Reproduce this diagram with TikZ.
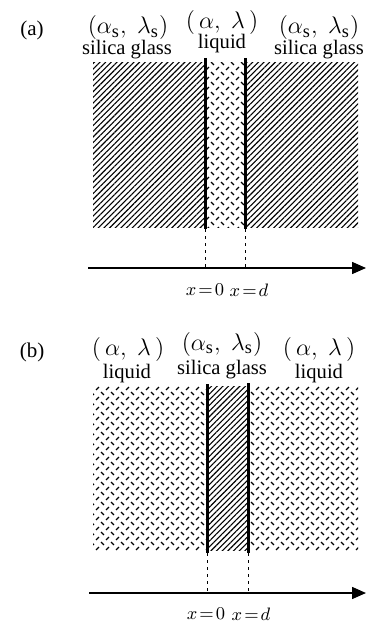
\documentclass[tikz,border=0pt]{standalone}
\usepackage{fontspec}
\setmainfont{Liberation Serif}
\usetikzlibrary{arrows.meta, patterns, patterns.meta}

% short crossed dashes for the liquid layers
\pgfdeclarepatternformonly{liquid dashes}{\pgfqpoint{-1pt}{-1pt}}{\pgfqpoint{6pt}{6pt}}{\pgfqpoint{5pt}{5pt}}{%
  \pgfsetlinewidth{0.6pt}
  \pgfpathmoveto{\pgfqpoint{0.55pt}{1.95pt}}\pgflineto{\pgfqpoint{1.95pt}{0.55pt}}
  \pgfpathmoveto{\pgfqpoint{3.05pt}{3.05pt}}\pgflineto{\pgfqpoint{4.45pt}{4.45pt}}
  \pgfusepath{stroke}}

\begin{document}
\begin{tikzpicture}[x=0.5pt, y=-0.5pt,
    every node/.style={font=\fontsize{10.3}{12}\selectfont, inner sep=0},
    pair/.style={font=\fontsize{13}{15}\selectfont},
    glass/.style={pattern={Lines[angle=45, distance=2pt, line width=0.55pt]}},
    liquid/.style={pattern=liquid dashes},
    wall/.style={line width=1.5pt},
    guide/.style={line width=0.5pt, dash pattern=on 1.5pt off 2pt},
    axis/.style={line width=0.75pt, -{Triangle[length=7pt, width=6pt]}},
    tag/.style={font=\fontsize{10.5}{12}\selectfont},
    coordlabel/.style={font=\fontsize{9.4}{11}\selectfont}]
  \useasboundingbox (0,0) rectangle (366,626);
    \begin{scope}
      \node[tag] (tagA) at (32,30) {(a)};
      \node[pair] (parAL) at (128,28) {$(\alpha_{\mathrm{s}},\;\lambda_{\mathrm{s}})$};
      \node[pair] (parAM) at (222,23) {$(\,\alpha,\;\lambda\,)$};
      \node[pair] (parAR) at (319,28) {$(\alpha_{\mathrm{s}},\;\lambda_{\mathrm{s}})$};
      \node (matAL) at (127,50) {silica glass};
      \node (matAM) at (222,44) {liquid};
      \node (matAR) at (319,50) {silica glass};
      \fill[glass] (93,63) rectangle (205,227);
      \fill[liquid] (205,63) rectangle (245,227);
      \fill[glass] (245,63) rectangle (358,227);
      \coordinate (wA1t) at (205,58);
      \coordinate (wA1b) at (205,229);
      \coordinate (wA2t) at (245,58);
      \coordinate (wA2b) at (245,229);
      \coordinate (axA0) at (88,268);
      \coordinate (axA1) at (366,268);
      \coordinate (xA1) at (205,268);
      \coordinate (xA2) at (245,268);
      \draw[wall] (wA1t) -- (wA1b);
      \draw[wall] (wA2t) -- (wA2b);
      \draw[guide] (wA1b) -- (xA1);
      \draw[guide] (wA2b) -- (xA2);
      \draw[axis] (axA0) -- (axA1);
      \node[coordlabel] (zeroA) at (205,290) {$x\!=\!0$};
      \node[coordlabel] (dA) at (249,290) {$x\!=\!d$};
    \end{scope}
    \begin{scope}[shift={(0,323)}]
      \node[tag] (tagB) at (32,29) {(b)};
      \node[pair] (parBL) at (128,26) {$(\,\alpha,\;\lambda\,)$};
      \node[pair] (parBM) at (222,21) {$(\alpha_{\mathrm{s}},\;\lambda_{\mathrm{s}})$};
      \node[pair] (parBR) at (319,26) {$(\,\alpha,\;\lambda\,)$};
      \node (matBL) at (127,51) {liquid};
      \node (matBM) at (222,47) {silica glass};
      \node (matBR) at (319,51) {liquid};
      \fill[liquid] (93,63) rectangle (207,227);
      \fill[glass] (207,63) rectangle (248,227);
      \fill[liquid] (248,63) rectangle (358,227);
      \coordinate (wB1t) at (207,61);
      \coordinate (wB1b) at (207,230);
      \coordinate (wB2t) at (248,60);
      \coordinate (wB2b) at (248,230);
      \coordinate (axB0) at (89,270);
      \coordinate (axB1) at (366,270);
      \coordinate (xB1) at (207,270);
      \coordinate (xB2) at (248,270);
      \draw[wall] (wB1t) -- (wB1b);
      \draw[wall] (wB2t) -- (wB2b);
      \draw[guide] (wB1b) -- (xB1);
      \draw[guide] (wB2b) -- (xB2);
      \draw[axis] (axB0) -- (axB1);
      \node[coordlabel] (zeroB) at (206,291) {$x\!=\!0$};
      \node[coordlabel] (dB) at (251,291) {$x\!=\!d$};
    \end{scope}
  \end{tikzpicture}
\end{document}
